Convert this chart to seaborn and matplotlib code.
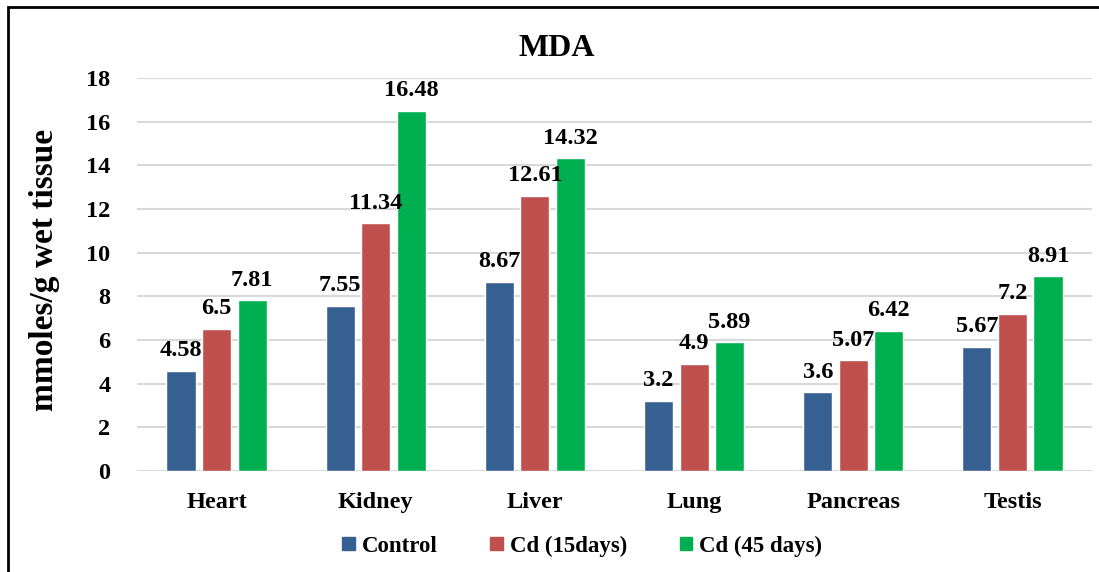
import pandas as pd
import numpy as np
import seaborn as sns
import matplotlib
import matplotlib.pyplot as plt
from matplotlib.patches import Rectangle

# MDA levels per organ
organs = ['Heart', 'Kidney', 'Liver', 'Lung', 'Pancreas', 'Testis']
control = [4.58, 7.55, 8.67, 3.2, 3.6, 5.67]
cd_15 = [6.5, 11.34, 12.61, 4.9, 5.07, 7.2]
cd_45 = [7.81, 16.48, 14.32, 5.89, 6.42, 8.91]
groups = ['Control', 'Cd (15days)', 'Cd (45 days)']
label_text = [['4.58', '7.55', '8.67', '3.2', '3.6', '5.67'],
              ['6.5', '11.34', '12.61', '4.9', '5.07', '7.2'],
              ['7.81', '16.48', '14.32', '5.89', '6.42', '8.91']]

df = pd.DataFrame({
    'Organ': organs * 3,
    'Group': np.repeat(groups, len(organs)),
    'Value': control + cd_15 + cd_45,
})

sns.set_style('white')
matplotlib.rcParams['font.family'] = ['Liberation Serif', 'DejaVu Serif']
matplotlib.rcParams['font.weight'] = 'bold'
matplotlib.rcParams['text.color'] = 'black'
matplotlib.rcParams['xtick.color'] = 'black'
matplotlib.rcParams['ytick.color'] = 'black'
matplotlib.rcParams['axes.labelcolor'] = 'black'

fig = plt.figure(figsize=(10.99, 5.72), dpi=100)
ax = fig.add_axes([137 / 1099, 1 - 471 / 572, (1092 - 137) / 1099, (471 - 78) / 572])

palette = ['#376092', '#C0504D', '#00B050']
sns.barplot(data=df, x='Organ', y='Value', hue='Group', palette=palette,
            width=0.67, gap=0.18, saturation=1, ax=ax, legend=False)

for cont, labels in zip(ax.containers, label_text):
    ax.bar_label(cont, labels=labels, padding=7, fontsize=17.5, fontweight='bold',
                 color='black')

ax.set_ylim(0, 18)
ax.set_xlim(-0.5, 5.5)
ax.set_yticks(range(0, 19, 2))
ax.yaxis.grid(True, color='#D9D9D9', linewidth=1.5)
ax.set_axisbelow(True)
for s in ax.spines.values():
    s.set_visible(False)
ax.tick_params(length=0, labelsize=17.5)
ax.tick_params(axis='y', pad=19)
ax.tick_params(axis='x', pad=15)
for t in ax.get_xticklabels() + ax.get_yticklabels():
    t.set_fontweight('bold')
ax.set_xlabel('')
ax.set_ylabel('')
fig.text(45 / 1099, 1 - 270 / 572, 'mmoles/g wet tissue', rotation=90,
         ha='center', va='center', fontsize=24, fontweight='bold')
fig.text(557 / 1099, 1 - 49 / 572, 'MDA', ha='center', va='center',
         fontsize=23, fontweight='bold')

handles = [plt.Rectangle((0, 0), 1, 1, color=c) for c in palette]
fig.legend(handles, groups, loc='center', bbox_to_anchor=(582 / 1099, 1 - 546 / 572),
           ncol=3, frameon=False, handlelength=0.55, handleheight=0.55,
           columnspacing=2.3, handletextpad=0.3,
           prop={'size': 16.5, 'weight': 'bold'})

# outer chart border
fig.patches.append(Rectangle((8 / 1099, -0.05), 1.1, 1 - 7 / 572 + 0.05,
                             transform=fig.transFigure, fill=False,
                             edgecolor='black', linewidth=2))

fig.savefig('out.png', dpi=100)
